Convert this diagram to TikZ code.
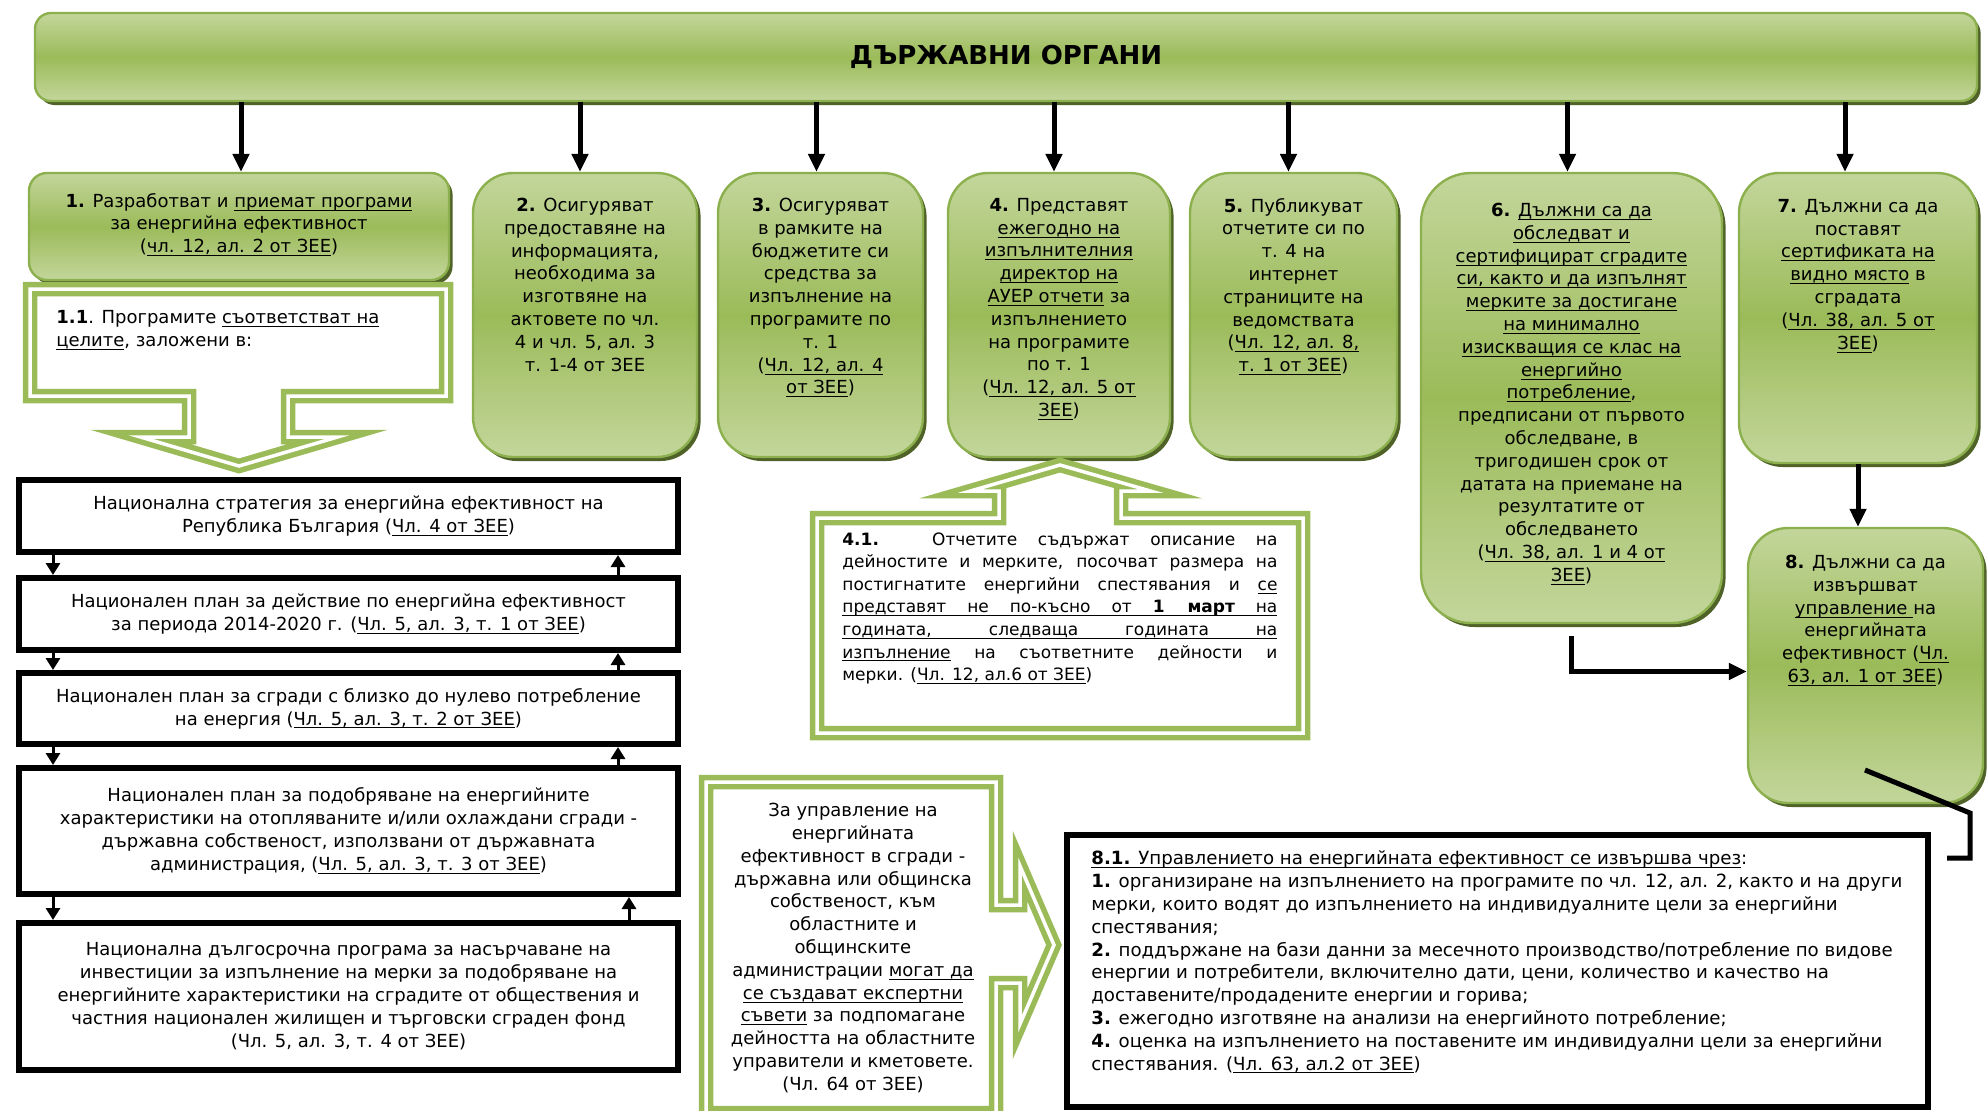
\documentclass[tikz,border=0pt]{standalone}
\usepackage{fontspec}
\setmainfont{DejaVu Sans}
\usetikzlibrary{arrows.meta,positioning,shadows}
\hyphenpenalty=10000
\exhyphenpenalty=10000
\newcommand{\uln}[1]{\underline{\smash{#1}}}

\definecolor{lgreen}{HTML}{C3D69B}
\definecolor{ogreen}{HTML}{9BBB59}
\definecolor{bgreen}{HTML}{8DB04E}
\definecolor{dgreen}{HTML}{4F6228}

\begin{document}
\begin{tikzpicture}[x=0.5pt,y=-0.5pt]
\tikzstyle{organ}=[rectangle,rounded corners=20pt,draw=bgreen,line width=1.2pt,top color=lgreen,bottom color=lgreen,middle color=ogreen,drop shadow={shadow xshift=1.8pt,shadow yshift=-2pt,fill=dgreen,opacity=1}]
\tikzstyle{duty}=[inner sep=0pt,align=center,font=\fontsize{9}{11.4}\selectfont]
\tikzstyle{plan}=[rectangle,draw=black,line width=3pt,fill=white,minimum width=329.5pt,align=center,font=\fontsize{9}{11.5}\selectfont]
\tikzstyle{frame}=[draw=ogreen,line width=2.75pt,double=white,double distance=1.75pt,fill=white,line join=miter]
\tikzstyle{arrow}=[-{Triangle[width=8pt,length=9pt]},line width=2.5pt]
\tikzstyle{thin arrow}=[-{Triangle[width=7pt,length=6pt]},line width=1.5pt]

\useasboundingbox (0,0) rectangle (1987,1110);
\clip (0,0) rectangle (1987,1110);

% header
\node[organ,rounded corners=8pt,minimum width=971pt,minimum height=44pt,font=\fontsize{13}{15}\bfseries] (organ) at (1006,57) {ДЪРЖАВНИ ОРГАНИ};

% duties of the state bodies
\node[organ,rounded corners=9pt,minimum width=210pt,minimum height=53.5pt] (d1) at (239,226.5) {};
\node[organ,minimum width=112pt,minimum height=142pt] (d2) at (585,315) {};
\node[organ,minimum width=102.5pt,minimum height=142pt] (d3) at (820.5,315) {};
\node[organ,minimum width=111pt,minimum height=142pt] (d4) at (1059,315) {};
\node[organ,minimum width=103.5pt,minimum height=142pt] (d5) at (1293.5,315) {};
\node[organ,rounded corners=25pt,minimum width=150.5pt,minimum height=225pt] (d6) at (1571.5,398) {};
\node[organ,minimum width=119pt,minimum height=145pt] (d7) at (1858,318) {};
\node[organ,minimum width=117.5pt,minimum height=137.5pt] (d8) at (1865.5,665.5) {};

\foreach \n/\s in {d1/1pt,d2/-2.5pt,d3/-2pt,d4/-2.5pt,d5/-2.5pt,d6/-2pt,d7/-6.5pt}
  \draw[arrow] ([xshift=\s]organ.south -| \n.north) -- ([xshift=\s]\n.north);

\node[duty,below=10.5pt of d1.north] (t1) {\textbf{1.} Разработват и \uln{приемат програми}\\за енергийна ефективност\\(\uln{чл. 12, ал. 2 от ЗЕЕ})};
\node[duty,below=13pt of d2.north] (t2) {\textbf{2.} Осигуряват\\предоставяне на\\информацията,\\необходима за\\изготвяне на\\актовете по чл.\\4 и чл. 5, ал. 3\\т. 1-4 от ЗЕЕ};
\node[duty,below=13pt of d3.north] (t3) {\textbf{3.} Осигуряват\\в рамките на\\бюджетите си\\средства за\\изпълнение на\\програмите по\\т. 1\\(\uln{Чл. 12, ал. 4}\\\uln{от ЗЕЕ})};
\node[duty,below=13pt of d4.north] (t4) {\textbf{4.} Представят\\\uln{ежегодно на}\\\uln{изпълнителния}\\\uln{директор на}\\\uln{АУЕР отчети} за\\изпълнението\\на програмите\\по т. 1\\(\uln{Чл. 12, ал. 5 от}\\\uln{ЗЕЕ})};
\node[duty,below=13pt of d5.north] (t5) {\textbf{5.} Публикуват\\отчетите си по\\т. 4 на\\интернет\\страниците на\\ведомствата\\(\uln{Чл. 12, ал. 8,}\\\uln{т. 1 от ЗЕЕ})};
\node[duty,below=15.5pt of d6.north] (t6) {\textbf{6.} \uln{Дължни са да}\\\uln{обследват и}\\\uln{сертифицират сградите}\\\uln{си, както и да изпълнят}\\\uln{мерките за достигане}\\\uln{на минимално}\\\uln{изискващия се клас на}\\\uln{енергийно}\\\uln{потребление},\\предписани от първото\\обследване, в\\тригодишен срок от\\датата на приемане на\\резултатите от\\обследването\\(\uln{Чл. 38, ал. 1 и 4 от}\\\uln{ЗЕЕ})};
\node[duty,below=13.5pt of d7.north] (t7) {\textbf{7.} Дължни са да\\поставят\\\uln{сертификата на}\\\uln{видно място} в\\сградата\\(\uln{Чл. 38, ал. 5 от}\\\uln{ЗЕЕ})};
\node[duty,below=14pt of d8.north] (t8) {\textbf{8.} Дължни са да\\извършват\\\uln{управление }на\\енергийната\\ефективност (\uln{Чл.}\\\uln{63, ал. 1 от ЗЕЕ})};

\draw[arrow] (d7.south) -- (d7.south |- d8.north);
\draw[arrow] ([yshift=-6pt]d6.south) |- ([yshift=-3pt]d8.west);

% 1.1 callout
\draw[frame] (30,289) -- (446,289) -- (446,396) -- (288,396) -- (288,437) -- (337.5,437) -- (239,466) -- (140.5,437) -- (189,437) -- (189,396) -- (30,396) -- cycle;
\node[duty,anchor=north west,align=left] (t11) at (56,310) {\textbf{1.1}. Програмите \uln{съответстват на}\\\uln{целите}, заложени в:};

% national documents
\node[plan,minimum height=36pt] (pA) at (348.5,516) {Национална стратегия за енергийна ефективност на\\Република България (\uln{Чл. 4 от ЗЕЕ})};
\node[plan,minimum height=36pt] (pB) at (348.5,614) {Национален план за действие по енергийна ефективност\\за периода 2014-2020 г. (\uln{Чл. 5, ал. 3, т. 1 от ЗЕЕ})};
\node[plan,minimum height=35.5pt] (pC) at (348.5,708.5) {Национален план за сгради с близко до нулево потребление\\на енергия (\uln{Чл. 5, ал. 3, т. 2 от ЗЕЕ})};
\node[plan,minimum height=63pt] (pD) at (348.5,831) {Национален план за подобряване на енергийните\\характеристики на отопляваните и/или охлаждани сгради -\\държавна собственост, използвани от държавната\\администрация, (\uln{Чл. 5, ал. 3, т. 3 от ЗЕЕ})};
\node[plan,minimum height=73.5pt] (pE) at (348.5,996.5) {Национална дългосрочна програма за насърчаване на\\инвестиции за изпълнение на мерки за подобряване на\\енергийните характеристики на сградите от обществения и\\частния национален жилищен и търговски сграден фонд\\(Чл. 5, ал. 3, т. 4 от ЗЕЕ)};

\foreach \a/\b in {pA/pB,pB/pC,pC/pD,pD/pE}
  \draw[thin arrow] ([xshift=18.5pt]\a.south west) -- ([xshift=18.5pt]\b.north west);
\foreach \a/\b/\s in {pA/pB/31.5pt,pB/pC/31.5pt,pC/pD/31.5pt,pD/pE/26pt}
  \draw[thin arrow] ([xshift=-\s]\b.north east) -- ([xshift=-\s]\a.south east);

% 4.1 callout
\draw[frame] (817,518) -- (999,518) -- (999,491) -- (970.5,491) -- (1060,465) -- (1150.5,491) -- (1121,491) -- (1121,518) -- (1303,518) -- (1303,733) -- (817,733) -- cycle;
\node[duty,anchor=north west,align=left,font=\fontsize{8.5}{11.3}\selectfont] (t41) at (842,532) {%
\makebox[217.5pt][s]{\textbf{4.1.} Отчетите съдържат описание на}\\
\makebox[217.5pt][s]{дейностите и мерките, посочват размера на}\\
\makebox[217.5pt][s]{постигнатите енергийни спестявания и \uln{се}}\\
\uln{\makebox[217.5pt][s]{представят не по-късно от \textbf{1 март} на}}\\
\uln{\makebox[217.5pt][s]{годината, следваща годината на}}\\
\makebox[217.5pt][s]{\uln{изпълнение} на съответните дейности и}\\
мерки. (\uln{Чл. 12, ал.6 от ЗЕЕ})};

% art. 64 callout
\draw[frame] (706,782) -- (996,782) -- (996,905) -- (1020,905) -- (1020,866) -- (1054,945) -- (1020,1024) -- (1020,983) -- (996,983) -- (996,1113) -- (706,1113) -- cycle;
\node[duty,anchor=north] (t64) at (853,803) {За управление на\\енергийната\\ефективност в сгради -\\държавна или общинска\\собственост, към\\областните и\\общинските\\администрации \uln{могат да}\\\uln{се създават експертни}\\\uln{съвети} за подпомагане\\дейността на областните\\управители и кметовете.\\(Чл. 64 от ЗЕЕ)};

% 8.1
\node[plan,minimum width=430.5pt,minimum height=136pt] (p81) at (1497.5,971) {};
\node[duty,anchor=north west,align=left,font=\fontsize{9.1}{11.4}\selectfont] (t81) at (1091,855) {\uln{\textbf{8.1.} Управлението на енергийната ефективност се извършва чрез}:\\\textbf{1.} организиране на изпълнението на програмите по чл. 12, ал. 2, както и на други\\мерки, които водят до изпълнението на индивидуалните цели за енергийни\\спестявания;\\\textbf{2.} поддържане на бази данни за месечното производство/потребление по видове\\енергии и потребители, включително дати, цени, количество и качество на\\доставените/продадените енергии и горива;\\\textbf{3.} ежегодно изготвяне на анализи на енергийното потребление;\\\textbf{4.} оценка на изпълнението на поставените им индивидуални цели за енергийни\\спестявания. (\uln{Чл. 63, ал.2 от ЗЕЕ})};

\coordinate (k1) at (1865,770);
\coordinate (k2) at (1970,813);
\coordinate (k3) at (1970,858);
\coordinate (k4) at (1947,858);
\draw[line width=2.5pt] (k1) -- (k2) -- (k3) -- (k4);
\end{tikzpicture}
\end{document}
